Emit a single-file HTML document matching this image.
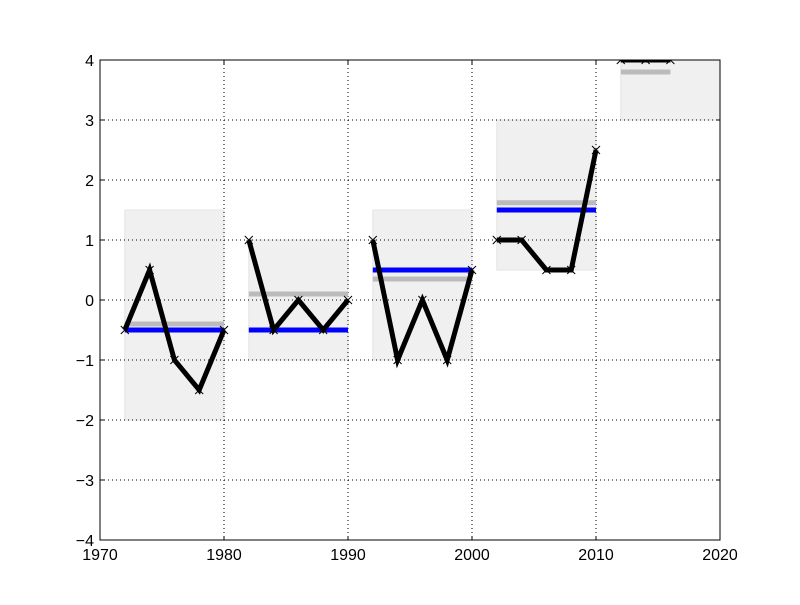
<!DOCTYPE html>
<html><head><meta charset="utf-8"><style>
body{margin:0;background:#fff;width:800px;height:600px;overflow:hidden}
svg text{font-family:"Liberation Sans",sans-serif;font-size:16px;fill:#000}
</style></head><body>
<svg id="chart" width="800" height="600" xmlns="http://www.w3.org/2000/svg">
<defs><clipPath id="clip"><rect x="100" y="60" width="620" height="480"/></clipPath></defs>
<rect width="800" height="600" fill="#fff"/>
<g id="boxes" clip-path="url(#clip)"></g>
<g id="grid"></g>
<g id="series" clip-path="url(#clip)"></g>
<rect x="100" y="60" width="620" height="480" fill="none" stroke="#000" stroke-width="1"/>
<g id="ticks"></g>
</svg>
<script>
const segStart=[1972,1982,1992,2002,2012];
const segValues=[[-0.5,0.5,-1,-1.5,-0.5],[1,-0.5,0,-0.5,0],[1,-1,0,-1,0.5],[1,1,0.5,0.5,2.5],[4,4,4]];
const boxLow=[-2,-1,-1,0.5,3];
const boxHigh=[1.5,1,1.5,3,4.5];
const boxEnd=[1980,1990,2000,2010,2021];
const meanVals=[-0.5,-0.5,0.5,1.5,4];
const grayVals=[-0.4,0.1,0.35,1.62,3.8];
const lineEnd=[1980,1990,2000,2010,2016];
const xTicks=[1970,1980,1990,2000,2010,2020];
const yTicks=[-4,-3,-2,-1,0,1,2,3,4];
const X=v=>100+(v-1970)*620/50, Y=v=>300-v*60;
const NS="http://www.w3.org/2000/svg";
function mk(t,a,p){const e=document.createElementNS(NS,t);for(const k in a)e.setAttribute(k,a[k]);p.appendChild(e);return e;}
const boxes=document.getElementById('boxes'),series=document.getElementById('series'),grid=document.getElementById('grid'),ticks=document.getElementById('ticks');
segStart.forEach((s,i)=>{
 const b=mk('rect',{x:X(s),y:Y(boxHigh[i]),width:X(boxEnd[i])-X(s),height:Y(boxLow[i])-Y(boxHigh[i]),fill:'#f0f0f0',stroke:'#e4e4e4'},boxes);
 
 
});
xTicks.forEach(t=>{
 if(t>1970&&t<2020){const l=mk('line',{x1:X(t),x2:X(t),y1:60,y2:540,stroke:'#000','stroke-dasharray':'1,3'},grid);}
 mk('line',{x1:X(t),x2:X(t),y1:540,y2:536,stroke:'#000'},ticks);
 mk('line',{x1:X(t),x2:X(t),y1:60,y2:64,stroke:'#000'},ticks);
 const tx=mk('text',{x:X(t),y:560,'text-anchor':'middle'},ticks);tx.textContent=t;
 
});
yTicks.forEach(t=>{
 if(t>-4&&t<4){const l=mk('line',{x1:100,x2:720,y1:Y(t),y2:Y(t),stroke:'#000','stroke-dasharray':'1,3'},grid);}
 mk('line',{x1:100,x2:104,y1:Y(t),y2:Y(t),stroke:'#000'},ticks);
 mk('line',{x1:716,x2:720,y1:Y(t),y2:Y(t),stroke:'#000'},ticks);
 const tx=mk('text',{x:94,y:Y(t)+6,'text-anchor':'end'},ticks);tx.textContent=(t<0?'\u2212'+(-t):t);
 
});
segStart.forEach((s,i)=>{
 const g=mk('line',{x1:X(s),x2:X(lineEnd[i]),y1:Y(grayVals[i]),y2:Y(grayVals[i]),stroke:'#bbb','stroke-width':5},series);
 
 const m=mk('line',{x1:X(s),x2:X(lineEnd[i]),y1:Y(meanVals[i]),y2:Y(meanVals[i]),stroke:'#00f','stroke-width':5},series);
 
 const pts=segValues[i].map((v,j)=>X(s+2*j)+','+Y(v)).join(' ');
 const p=mk('polyline',{points:pts,fill:'none',stroke:'#000','stroke-width':5,'stroke-linejoin':'miter'},series);
 
 segValues[i].forEach((v,j)=>{const x=X(s+2*j),y=Y(v);
  const c=mk('path',{d:`M${x-4},${y-4}L${x+4},${y+4}M${x-4},${y+4}L${x+4},${y-4}`,stroke:'#000','stroke-width':1},series);
  });
});
</script>
</body></html>
